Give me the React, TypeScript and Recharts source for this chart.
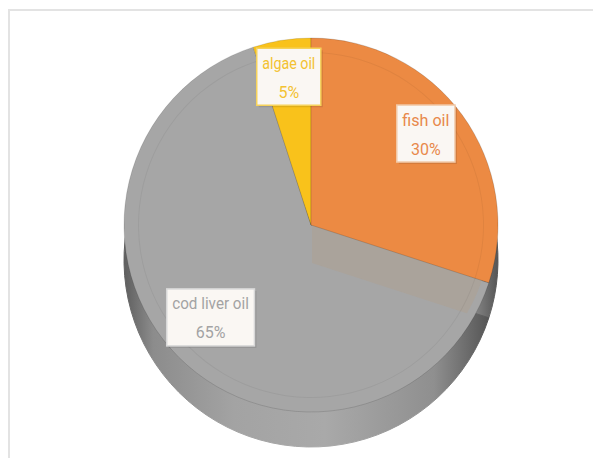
import { PieChart, Pie, Cell } from 'recharts';

const NAMES = ['fish oil', 'cod liver oil', 'algae oil'];
const VALUES = [30, 65, 5];
const TOP_COLORS = ['#ec8a43', '#a6a6a6', '#f9c21b'];
const TEXT_COLORS = ['#e8894b', '#a3a3a3', '#f3c232'];
const BORDER_COLORS = ['#f1c9a8', '#d8d8d8', '#f6d25a'];

const data = NAMES.map((name, i) => ({ name, value: VALUES[i] }));

const CX = 296;
const CY = 209;
const R = 187;
const DEPTH = 35;

function BoxLabel(props: any) {
  const { cx, cy, midAngle, index } = props;
  const rad = (midAngle * Math.PI) / 180;
  const x = cx + 142 * Math.cos(rad);
  const y = cy - 8 - 142 * Math.sin(rad);
  const name = NAMES[index];
  const tw = name.length * 5.9;
  const w = tw + 11;
  const h = 57;
  return (
    <g>
      <rect x={x - w / 2 + 2} y={y - h / 2 + 2} width={w} height={h} fill="rgba(0,0,0,0.1)" />
      <rect x={x - w / 2} y={y - h / 2} width={w} height={h} fill="#faf7f3" stroke={BORDER_COLORS[index]} strokeWidth={1.5} />
      <text x={x} y={y - 8} textAnchor="middle" fill={TEXT_COLORS[index]} fontSize={17} fontFamily="Roboto, sans-serif"
        textLength={tw} lengthAdjust="spacingAndGlyphs">{name}</text>
      <text x={x} y={y + 21} textAnchor="middle" fill={TEXT_COLORS[index]} fontSize={16} fontFamily="Roboto, sans-serif">
        {VALUES[index]}%
      </text>
    </g>
  );
}

export default function App() {
  return (
    <div style={{ width: 590, height: 447, marginTop: 1, borderTop: '2px solid #e3e3e3', borderLeft: '2px solid #e3e3e3', background: '#fff' }}>
      <PieChart width={588} height={447}>
        <defs>
          <linearGradient id="side" x1="0" y1="0" x2="1" y2="0">
            <stop offset="0%" stopColor="#5e5e5e" />
            <stop offset="8%" stopColor="#8c8c8c" />
            <stop offset="30%" stopColor="#a3a3a3" />
            <stop offset="55%" stopColor="#a9a9a9" />
            <stop offset="85%" stopColor="#8f8f8f" />
            <stop offset="100%" stopColor="#555" />
          </linearGradient>
          <clipPath id="topClip">
            <circle cx={CX} cy={CY} r={R - 1} />
          </clipPath>
        </defs>
        {/* cylinder side */}
        <Pie data={data} dataKey="value" nameKey="name" cx={CX} cy={CY + DEPTH} outerRadius={R} startAngle={90} endAngle={-270}
          stroke="url(#side)" strokeWidth={1} isAnimationActive={false}>
          {data.map((d, i) => <Cell key={i} fill="url(#side)" />)}
        </Pie>
        {/* top face: cod liver + algae */}
        <Pie data={data} dataKey="value" nameKey="name" cx={CX} cy={CY} outerRadius={R} startAngle={90} endAngle={-270}
          isAnimationActive={false}>
          {data.map((d, i) => <Cell key={i} fill={i === 0 ? 'transparent' : TOP_COLORS[i]} stroke={i === 0 ? 'none' : 'rgba(0,0,0,0.12)'} />)}
        </Pie>
        {/* wall under the fish oil slice */}
        <Pie data={data} dataKey="value" nameKey="name" cx={CX + 1} cy={CY + 38} outerRadius={R} startAngle={90} endAngle={-270}
          isAnimationActive={false}>
          {data.map((d, i) => <Cell key={i} fill={i === 0 ? '#aaa39b' : 'transparent'} stroke="none" clipPath="url(#topClip)" style={{ clipPath: 'url(#topClip)' }} />)}
        </Pie>
        {/* fish oil top */}
        <Pie data={data} dataKey="value" nameKey="name" cx={CX} cy={CY} outerRadius={R} startAngle={90} endAngle={-270}
          isAnimationActive={false}>
          {data.map((d, i) => <Cell key={i} fill={i === 0 ? TOP_COLORS[0] : 'transparent'} stroke={i === 0 ? 'rgba(0,0,0,0.15)' : 'none'} />)}
        </Pie>
        {/* faint inner ring */}
        <Pie data={data} dataKey="value" nameKey="name" cx={CX} cy={CY} innerRadius={R - 15} outerRadius={R - 14} startAngle={90} endAngle={-270}
          isAnimationActive={false} stroke="none">
          {data.map((d, i) => <Cell key={i} fill="rgba(0,0,0,0.05)" />)}
        </Pie>
        {/* labels */}
        <Pie data={data} dataKey="value" nameKey="name" cx={CX} cy={CY} outerRadius={R} startAngle={90} endAngle={-270}
          isAnimationActive={false} stroke="none" label={BoxLabel} labelLine={false}>
          {data.map((d, i) => <Cell key={i} fill="transparent" />)}
        </Pie>
      </PieChart>
    </div>
  );
}
